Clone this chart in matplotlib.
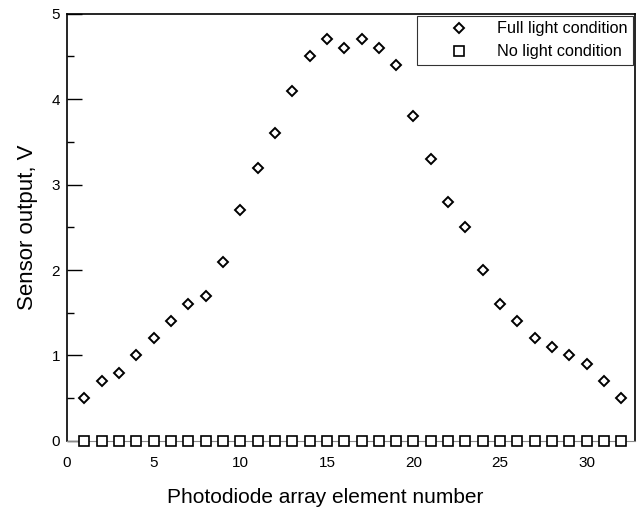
import numpy as np
import matplotlib
matplotlib.use("Agg")
import matplotlib.pyplot as plt
from matplotlib.ticker import MultipleLocator

plt.rcParams['font.family'] = ['Liberation Sans', 'DejaVu Sans']

# element index and measured output (V)
element = np.arange(1, 33)
full_light = [0.5, 0.7, 0.8, 1.0, 1.2, 1.4, 1.6, 1.7, 2.1, 2.7, 3.2, 3.6, 4.1, 4.5, 4.7, 4.6,
              4.7, 4.6, 4.4, 3.8, 3.3, 2.8, 2.5, 2.0, 1.6, 1.4, 1.2, 1.1, 1.0, 0.9, 0.7, 0.5]
no_light = [0.0] * 32

fig = plt.figure(figsize=(6.39, 5.08), dpi=100)
ax = fig.add_axes([0.105, 0.132, 0.889, 0.841])

ax.plot(element, full_light, linestyle='none', marker='D', markersize=5.2,
        markerfacecolor='white', markeredgecolor='black', markeredgewidth=1.4,
        label='Full light condition', zorder=3)
ax.plot(element, no_light, linestyle='none', marker='s', markersize=7.2,
        markerfacecolor='white', markeredgecolor='black', markeredgewidth=1.2,
        label='No light condition', zorder=3, clip_on=False)

ax.set_xlim(0, 32.8)
ax.set_ylim(0, 5)
ax.xaxis.set_major_locator(MultipleLocator(5))
ax.yaxis.set_major_locator(MultipleLocator(1))
ax.yaxis.set_minor_locator(MultipleLocator(0.5))
ax.tick_params(axis='y', which='major', direction='in', length=11, width=1, labelsize=11, pad=5)
ax.tick_params(axis='y', which='minor', direction='in', length=5, width=1)
ax.tick_params(axis='x', which='major', length=0, labelsize=11, pad=11)

ax.spines['bottom'].set_color('#8a8a8a')
for s in ['left', 'top', 'right']:
    ax.spines[s].set_linewidth(1.2)

ax.set_xlabel('Photodiode array element number', fontsize=15, labelpad=13)
ax.xaxis.label.set_x(0.454)
ax.set_ylabel('Sensor output, V', fontsize=16, labelpad=10)

leg = ax.legend(loc='upper right', fontsize=11.7, frameon=True, fancybox=False,
                edgecolor='black', borderaxespad=0.12, handlelength=4.5,
                handletextpad=0.1, borderpad=0.35, labelspacing=0.5)
leg.get_frame().set_linewidth(0.8)

fig.savefig('out.png', dpi=100)
